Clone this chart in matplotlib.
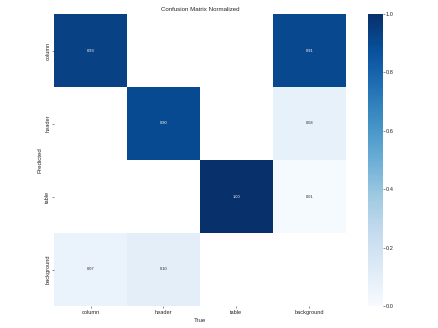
import numpy as np
import matplotlib
matplotlib.use("Agg")
import matplotlib.pyplot as plt

labels = ["column", "header", "table", "background"]
row_column = [0.93, 0.0, 0.0, 0.91]
row_header = [0.0, 0.90, 0.0, 0.08]
row_table = [0.0, 0.0, 1.00, 0.01]
row_background = [0.07, 0.10, 0.0, 0.0]

matrix = np.array([row_column, row_header, row_table, row_background], dtype=float)
matrix[matrix < 0.005] = np.nan

plt.rcParams['font.family'] = ['Liberation Sans', 'DejaVu Sans']
DPI = 36.5
fig = plt.figure(figsize=(438 / DPI, 328 / DPI), dpi=DPI)
fig.patch.set_facecolor('white')

ax = fig.add_axes([54 / 438, 1 - 306 / 328, 292 / 438, 292 / 328])
cax = fig.add_axes([368 / 438, 1 - 306 / 328, 14.5 / 438, 292 / 328])

cmap = plt.get_cmap('Blues')
masked = np.ma.masked_invalid(matrix)
mesh = ax.pcolormesh(masked, cmap=cmap, vmin=0.0, vmax=1.0)
ax.set_xlim(0, 4)
ax.set_ylim(4, 0)
ax.set_facecolor('white')
for s in ax.spines.values():
    s.set_visible(False)

n = len(labels)
for i in range(n):
    for j in range(n):
        v = matrix[i, j]
        if np.isnan(v):
            continue
        r, g, b, _ = cmap(v)
        lum = 0.2126 * r + 0.7152 * g + 0.0722 * b
        color = 'white' if lum < 0.408 else '#262626'
        ax.text(j + 0.5, i + 0.5, f"{v:.2f}", ha='center', va='center',
                fontsize=8, color=color)

ax.set_xticks(np.arange(n) + 0.5)
ax.set_yticks(np.arange(n) + 0.5)
ax.set_xticklabels(labels, fontsize=11, color='#262626')
ax.set_yticklabels(labels, fontsize=11, color='#262626', rotation=90, va='center')
ax.tick_params(length=3, width=1, color='#262626', pad=4)
ax.set_xlabel('True', fontsize=12, color='#262626', labelpad=6)
ax.set_ylabel('Predicted', fontsize=12, color='#262626', labelpad=6)
ax.set_title('Confusion Matrix Normalized', fontsize=12, color='#262626', pad=5)

cb = fig.colorbar(mesh, cax=cax)
cb.outline.set_visible(False)
cb.set_ticks([0.0, 0.2, 0.4, 0.6, 0.8, 1.0])
cb.ax.tick_params(labelsize=11, length=3, width=1, color='#262626', labelcolor='#262626')

fig.savefig('out.png', dpi=DPI, facecolor='white')
